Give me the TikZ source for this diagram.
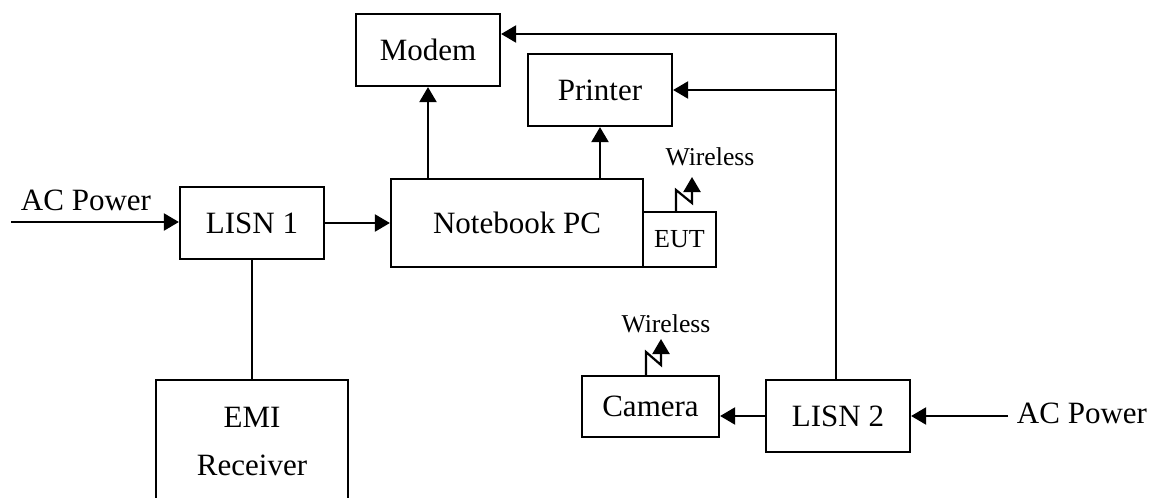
\documentclass[tikz,border=0pt]{standalone}
\usepackage{fontspec}
\setmainfont{Liberation Serif}
\usetikzlibrary{arrows.meta}
\begin{document}
\begin{tikzpicture}[x=1pt,y=-1pt,
  box/.style={draw,line width=2.2pt,inner sep=0pt,align=center,font=\fontsize{31}{48}\selectfont},
  lbl/.style={inner sep=0pt,font=\fontsize{31}{36}\selectfont},
  small/.style={inner sep=0pt,font=\fontsize{25.7}{30}\selectfont},
  conn/.style={line width=2.2pt},
  arr/.style={conn,-{Triangle[length=15pt,width=17pt]}}]
\useasboundingbox (0,0) rectangle (1160,498);
\node[box,minimum width=144pt,minimum height=72pt] (modem) at (428,50) {Modem};
\node[box,minimum width=144pt,minimum height=72pt] (printer) at (600,90) {Printer};
\node[box,minimum width=252pt,minimum height=88pt] (nb) at (517,223) {Notebook PC};
\node[box,minimum width=73pt,minimum height=55pt,font=\fontsize{26}{30}\selectfont] (eut) at (679.5,239.5) {EUT};
\node[box,minimum width=144pt,minimum height=72pt] (lisn1) at (252,223) {LISN 1};
\node[box,minimum width=192pt,minimum height=122pt] (emi) at (252,441) {EMI\\Receiver};
\node[box,minimum width=137pt,minimum height=61pt] (camera) at (650.5,406.5) {Camera};
\node[box,minimum width=144pt,minimum height=72pt] (lisn2) at (838,416) {LISN 2};
\node[lbl] (acl) at (86,200) {AC Power};
\node[lbl] (acr) at (1082,413) {AC Power};
\node[small] (wl1) at (710,157) {Wireless};
\node[small] (wl2) at (666,324) {Wireless};
\coordinate (acls) at (11,222);
\coordinate (acrs) at (1008,416);
\coordinate (top) at (836,34);
\coordinate (w1) at (676,212);
\coordinate (w2) at (646,376);
\draw[arr] (acls) -- (acls -| lisn1.west);
\draw[arr] (lisn1.east) -- (lisn1.east -| nb.west);
\draw[conn] (lisn1.south) -- (emi.north);
\draw[arr] (nb.north -| modem.south) -- (modem.south);
\draw[arr] (nb.north -| printer.south) -- (printer.south);
\draw[arr] (lisn2.north -| top) -- (top) -- (top -| modem.east);
\draw[arr] (printer.east -| top) -- (printer.east);
\draw[arr] (lisn2.west) -- (lisn2.west -| camera.east);
\draw[arr] (acrs) -- (lisn2.east);
\draw[arr] (w1) -- ++(0,-22) -- ++(16,13) -- ++(0,-26);
\draw[arr] (w2) -- ++(0,-24) -- ++(15,13) -- ++(0,-26);
\end{tikzpicture}
\end{document}
